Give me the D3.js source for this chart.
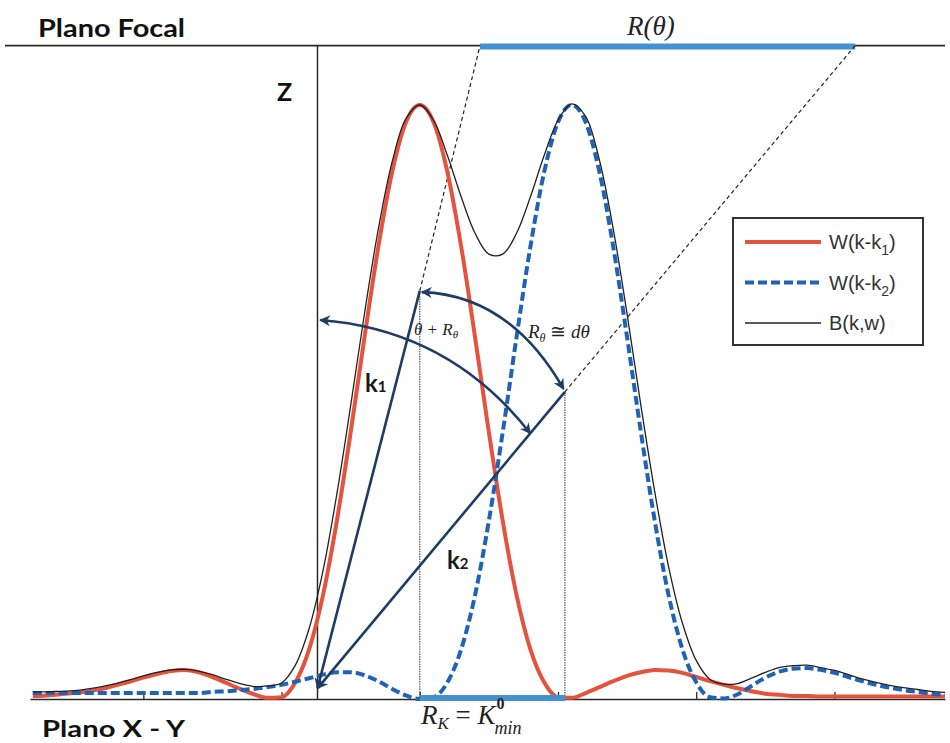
<!DOCTYPE html>
<html>
<head>
<meta charset="utf-8">
<script src="https://cdn.jsdelivr.net/npm/d3@7"></script>
<style>
  body { margin: 0; background: #fff; }
  svg { display: block; }
</style>
</head>
<body>
<svg id="chart" width="950" height="743"></svg>
<script>
// Sample positions along k (wavenumber axis)
const kGrid = [
  -2.8, -2.7, -2.6, -2.5, -2.4, -2.3, -2.2, -2.1, -2.0, -1.9, -1.8, -1.7, -1.6, -1.5, -1.4, -1.3, -1.2, -1.1,
  -1.0, -0.9, -0.8, -0.7, -0.6, -0.5, -0.4, -0.3, -0.2, -0.1, 0.0, 0.1, 0.2, 0.3, 0.4, 0.5, 0.6, 0.7, 0.8, 0.9, 1.0,
  1.1, 1.2, 1.3, 1.4, 1.5, 1.6, 1.7, 1.8, 1.9, 2.0, 2.1, 2.2, 2.3, 2.4, 2.5, 2.6, 2.7, 2.8, 2.9, 3.0,
  3.1, 3.2, 3.3, 3.4, 3.5, 3.6, 3.7, 3.8
];

// W(k-k1): window centred on k1
const windowK1 = [
  0.005, 0.006, 0.008, 0.010, 0.013, 0.017, 0.023, 0.029, 0.036, 0.042, 0.047, 0.049, 0.045, 0.037, 0.027, 0.017, 0.008, 0.002,
  0.003, 0.028, 0.084, 0.175, 0.300, 0.449, 0.609, 0.761, 0.887, 0.971, 1.000, 0.971, 0.887, 0.761, 0.609, 0.449, 0.300, 0.175, 0.084, 0.028, 0.003,
  0.002, 0.010, 0.020, 0.030, 0.039, 0.045, 0.049, 0.048, 0.044, 0.037, 0.030, 0.024, 0.018, 0.013, 0.009, 0.007, 0.005, 0.005, 0.004, 0.004,
  0.004, 0.004, 0.004, 0.004, 0.004, 0.004, 0.004, 0.004
];

// W(k-k2): window centred on k2
const windowK2 = [
  0.010, 0.010, 0.010, 0.010, 0.010, 0.010, 0.010, 0.010, 0.010, 0.010, 0.010, 0.010, 0.010, 0.012, 0.013, 0.015, 0.017, 0.020,
  0.024, 0.029, 0.035, 0.041, 0.045, 0.045, 0.040, 0.030, 0.017, 0.006, 0.000, 0.003, 0.028, 0.084, 0.175, 0.300, 0.449, 0.609, 0.761, 0.887, 0.971,
  1.000, 0.971, 0.887, 0.761, 0.609, 0.449, 0.300, 0.175, 0.084, 0.028, 0.003, 0.001, 0.008, 0.022, 0.036, 0.046, 0.051, 0.052, 0.049, 0.044,
  0.037, 0.030, 0.024, 0.019, 0.015, 0.012, 0.009, 0.007
];

// B(k,w): combined response
const beamB = [
  0.012, 0.012, 0.013, 0.014, 0.017, 0.021, 0.026, 0.032, 0.039, 0.045, 0.049, 0.050, 0.047, 0.041, 0.033, 0.026, 0.021, 0.022,
  0.027, 0.057, 0.119, 0.216, 0.345, 0.494, 0.649, 0.791, 0.904, 0.977, 1.000, 0.974, 0.915, 0.845, 0.784, 0.749, 0.749, 0.784, 0.845, 0.915, 0.974,
  1.002, 0.981, 0.907, 0.791, 0.648, 0.494, 0.349, 0.223, 0.128, 0.065, 0.033, 0.025, 0.026, 0.035, 0.045, 0.053, 0.056, 0.057, 0.053, 0.048,
  0.041, 0.034, 0.028, 0.023, 0.019, 0.016, 0.013, 0.011
];

const tickKs = [-2, -1, 0, 1, 2, 3];
const legendLabels = [["W(k-k", "1", ")"], ["W(k-k", "2", ")"], ["B(k,w)", "", ""]];

// Geometry of the construction (in k / amplitude units)
const zAxisK = -0.74;          // vertical Z axis
const focalLevel = 1.1;        // focal plane height
const k1Tip = [0.0, 0.687];
const k2Tip = [1.05, 0.517];
const rThetaSpan = [0.436, 3.15];
const rKSpan = [0.0, 1.05];

const svg = d3.select("#chart");

const x = d3.scaleLinear().domain([-2.82, 3.80]).range([30, 945]);
const y = d3.scaleLinear().domain([0, 1]).range([699, 105]);

const RED = "#e4533d", BLUE = "#1f63b6", NAVY = "#1f3c62", BAR = "#4391d3", INK = "#2a2a2a";

// arrowhead marker
const defs = svg.append("defs");
defs.append("marker")
  .attr("id", "head")
  .attr("viewBox", "0 0 10 10")
  .attr("refX", 9).attr("refY", 5)
  .attr("markerWidth", 13).attr("markerHeight", 11)
  .attr("markerUnits", "userSpaceOnUse")
  .attr("orient", "auto-start-reverse")
  .append("path").attr("d", "M0,0 L10,5 L0,10 L3,5 Z").attr("fill", NAVY);

// Focal plane line and R(theta) band
svg.append("line").attr("x1", 5).attr("x2", 945)
  .attr("y1", y(focalLevel)).attr("y2", y(focalLevel))
  .attr("stroke", INK).attr("stroke-width", 1.6);
svg.append("line")
  .attr("x1", x(rThetaSpan[0])).attr("x2", x(rThetaSpan[1]))
  .attr("y1", y(focalLevel) + 1).attr("y2", y(focalLevel) + 1)
  .attr("stroke", BAR).attr("stroke-width", 6);

// baseline axis with small upward ticks
const axis = d3.axisTop(x).tickValues(tickKs).tickSizeInner(7).tickSizeOuter(0).tickFormat("");
const ax = svg.append("g").attr("transform", `translate(0,${y(0)})`).call(axis);
ax.select(".domain").attr("stroke", INK).attr("stroke-width", 1.4);
ax.selectAll(".tick line").attr("stroke", INK).attr("stroke-width", 1.3);

// Z axis
svg.append("line").attr("x1", x(zAxisK)).attr("x2", x(zAxisK))
  .attr("y1", y(focalLevel)).attr("y2", y(0))
  .attr("stroke", INK).attr("stroke-width", 1.5);

// dotted verticals from vector tips to the baseline
[k1Tip, k2Tip].forEach(p => {
  svg.append("line").attr("x1", x(p[0])).attr("x2", x(p[0]))
    .attr("y1", y(p[1])).attr("y2", y(0))
    .attr("stroke", "#444").attr("stroke-width", 1.1).attr("stroke-dasharray", "1.5,1");
});

// dashed projections onto the focal plane
[[k1Tip, [rThetaSpan[0], focalLevel]], [k2Tip, [rThetaSpan[1], focalLevel]]].forEach(([a, b]) => {
  svg.append("line").attr("x1", x(a[0])).attr("y1", y(a[1]))
    .attr("x2", x(b[0])).attr("y2", y(b[1]))
    .attr("stroke", "#222").attr("stroke-width", 1.2).attr("stroke-dasharray", "4,3");
});

// curves
const line = (vals, curve) => d3.line()
  .x((d, i) => x(kGrid[i]))
  .y(d => y(d))
  .curve(curve)(vals);

svg.append("path").attr("d", line(windowK1, d3.curveMonotoneX)).attr("fill", "none")
  .attr("stroke", RED).attr("stroke-width", 4);
svg.append("path").attr("d", line(windowK2, d3.curveMonotoneX)).attr("fill", "none")
  .attr("stroke", BLUE).attr("stroke-width", 4).attr("stroke-dasharray", "9,4");
svg.append("path").attr("d", line(beamB, d3.curveCatmullRom)).attr("fill", "none")
  .attr("stroke", "#222").attr("stroke-width", 1.3);

// R_K band on the baseline
svg.append("line")
  .attr("x1", x(rKSpan[0])).attr("x2", x(rKSpan[1]))
  .attr("y1", y(0) - 1).attr("y2", y(0) - 1)
  .attr("stroke", BAR).attr("stroke-width", 6);

// wave vectors k1, k2 pointing to the origin
const origin = [zAxisK, 0.018];
[k1Tip, k2Tip].forEach(p => {
  svg.append("line").attr("x1", x(p[0])).attr("y1", y(p[1]))
    .attr("x2", x(origin[0])).attr("y2", y(origin[1]))
    .attr("stroke", NAVY).attr("stroke-width", 2.6)
    .attr("marker-end", "url(#head)");
});

// angular arcs
const arc = (a, c, b) => `M${x(a[0])},${y(a[1])} Q${x(c[0])},${y(c[1])} ${x(b[0])},${y(b[1])}`;
svg.append("path")
  .attr("d", arc([0.015, 0.685], [0.652, 0.680], [1.04, 0.522]))
  .attr("fill", "none").attr("stroke", NAVY).attr("stroke-width", 2.6)
  .attr("marker-start", "url(#head)").attr("marker-end", "url(#head)");
svg.append("path")
  .attr("d", arc([-0.72, 0.638], [0.217, 0.621], [0.80, 0.447]))
  .attr("fill", "none").attr("stroke", NAVY).attr("stroke-width", 2.6)
  .attr("marker-start", "url(#head)").attr("marker-end", "url(#head)");

// text labels
const bold = "Lato, 'Open Sans', sans-serif";
const serif = "'Liberation Serif', 'DejaVu Serif', serif";

svg.append("text").attr("x", 38).attr("y", 37).text("Plano Focal")
  .attr("font-family", bold).attr("font-weight", 700).attr("font-size", 24)
  .attr("fill", "#111").attr("textLength", 147).attr("lengthAdjust", "spacingAndGlyphs");
svg.append("text").attr("x", 42).attr("y", 737).text("Plano X - Y")
  .attr("font-family", bold).attr("font-weight", 700).attr("font-size", 23)
  .attr("fill", "#111").attr("textLength", 143).attr("lengthAdjust", "spacingAndGlyphs");
svg.append("text").attr("x", 277).attr("y", 101).text("Z")
  .attr("font-family", bold).attr("font-weight", 700).attr("font-size", 25).attr("fill", "#111");

svg.append("text").attr("x", 627).attr("y", 35).text("R(θ)")
  .attr("font-family", serif).attr("font-style", "italic").attr("font-size", 27).attr("fill", "#222");

// k1 and k2 labels
const kLabel = (px, py, sub) => {
  const t = svg.append("text").attr("x", px).attr("y", py)
    .attr("font-family", bold).attr("font-weight", 700).attr("font-size", 24).attr("fill", "#1a1a1a");
  t.append("tspan").text("k");
  t.append("tspan").attr("font-size", 15).text(sub);
};
kLabel(365, 392, "1");
kLabel(447, 569, "2");

// theta + R_theta
const t1 = svg.append("text").attr("x", 414).attr("y", 335)
  .attr("font-family", serif).attr("font-style", "italic").attr("font-size", 17).attr("fill", "#222");
t1.append("tspan").text("θ + R");
t1.append("tspan").attr("font-size", 11).attr("dy", 3).text("θ");

// R_theta ≅ dtheta
const t2 = svg.append("text").attr("x", 528).attr("y", 338)
  .attr("font-family", serif).attr("font-style", "italic").attr("font-size", 19).attr("fill", "#222");
t2.append("tspan").text("R");
t2.append("tspan").attr("font-size", 12).attr("dy", 4).text("θ");
t2.append("tspan").attr("dy", -4).attr("font-style", "normal").text(" ≅ ");
t2.append("tspan").text("dθ");

// R_K = K^0_min : main line, then stacked superscript and subscript
const t3 = svg.append("text").attr("x", 421).attr("y", 724)
  .attr("font-family", serif).attr("font-style", "italic").attr("font-size", 27).attr("fill", "#222");
t3.append("tspan").text("R");
t3.append("tspan").attr("font-size", 17).attr("dy", 5).text("K");
t3.append("tspan").attr("dy", -5).attr("font-style", "normal").text(" = ");
t3.append("tspan").text("K");
const kEnd = t3.node().getComputedTextLength() + 421;
svg.append("text").attr("x", kEnd + 1).attr("y", 709).text("0")
  .attr("font-family", serif).attr("font-weight", 700).attr("font-size", 16).attr("fill", "#222");
svg.append("text").attr("x", kEnd - 1).attr("y", 734).text("min")
  .attr("font-family", serif).attr("font-style", "italic").attr("font-size", 18).attr("fill", "#222");

// legend
const lg = svg.append("g").attr("transform", "translate(733,218)");
lg.append("rect").attr("width", 190).attr("height", 127)
  .attr("fill", "#fff").attr("stroke", "#333").attr("stroke-width", 2);
const legendStyles = [
  { stroke: RED, width: 4, dash: null },
  { stroke: BLUE, width: 4, dash: "9,4" },
  { stroke: "#222", width: 1.3, dash: null }
];
legendLabels.forEach((lab, i) => {
  const yy = 24 + i * 40.5;
  lg.append("line").attr("x1", 12).attr("x2", 88).attr("y1", yy).attr("y2", yy)
    .attr("stroke", legendStyles[i].stroke).attr("stroke-width", legendStyles[i].width)
    .attr("stroke-dasharray", legendStyles[i].dash);
  const t = lg.append("text").attr("x", 96).attr("y", yy + 7)
    .attr("font-family", "'Liberation Sans', Arial, sans-serif").attr("font-size", 20).attr("fill", "#333");
  t.append("tspan").text(lab[0]);
  if (lab[1]) {
    t.append("tspan").attr("font-size", 14).attr("dy", 6).text(lab[1]);
    t.append("tspan").attr("dy", -6).text(lab[2]);
  }
});
</script>
</body>
</html>
